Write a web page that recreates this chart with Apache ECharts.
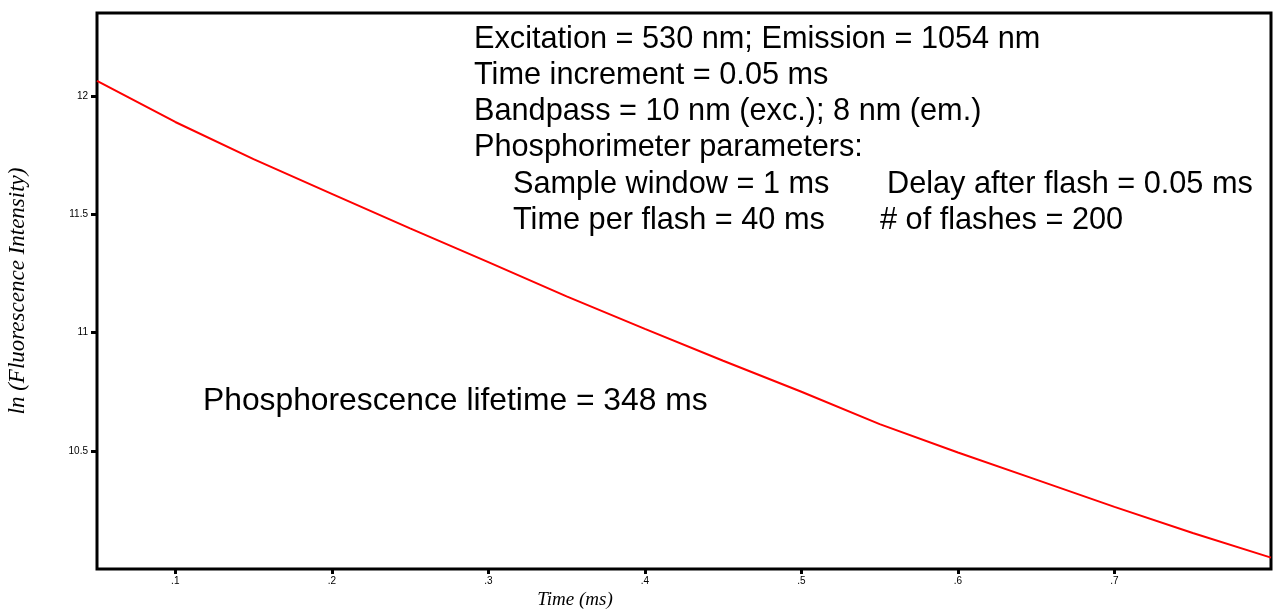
<!DOCTYPE html>
<html>
<head>
<meta charset="utf-8">
<script src="https://cdn.jsdelivr.net/npm/echarts@6/dist/echarts.min.js"></script>
<style>
html,body{margin:0;padding:0;background:#fff;}
#chart{width:1273px;height:614px;}
</style>
</head>
<body>
<div id="chart"></div>
<script>
// Data
const times = [0.05, 0.10, 0.15, 0.20, 0.25, 0.30, 0.35, 0.40, 0.45, 0.50, 0.55, 0.60, 0.65, 0.70, 0.75, 0.80];
const lnIntensity = [12.065, 11.891, 11.734, 11.587, 11.441, 11.298, 11.153, 11.016, 10.881, 10.750, 10.613, 10.493, 10.378, 10.263, 10.152, 10.048];
const xTickValues = [0.1, 0.2, 0.3, 0.4, 0.5, 0.6, 0.7];
const xTickLabels = ['.1', '.2', '.3', '.4', '.5', '.6', '.7'];
const yTickValues = [10.5, 11, 11.5, 12];
const yTickLabels = ['10.5', '11', '11.5', '12'];
const headerLines = [
  'Excitation = 530 nm; Emission = 1054 nm',
  'Time increment = 0.05 ms',
  'Bandpass = 10 nm (exc.); 8 nm (em.)',
  'Phosphorimeter parameters:'
];
const paramCol1 = ['Sample window = 1 ms', 'Time per flash = 40 ms'];
const paramCol2 = ['Delay after flash = 0.05 ms', '# of flashes = 200'];
const lifetimeText = 'Phosphorescence lifetime = 348 ms';

const chart = echarts.init(document.getElementById('chart'), null, {renderer: 'canvas'});
const sans = '"Liberation Sans", Arial, sans-serif';
const serif = '"Liberation Serif", "Times New Roman", serif';
const bigFont = '30.7px ' + sans;
const lifeFont = '31.8px ' + sans;

const headerY = [40, 76, 112, 148];
const paramY = [184.5, 220.5];

function txt(t, x, y, font) {
  return {type: 'text', x: x, y: y, silent: true,
    style: {text: t, font: font, fill: '#000', verticalAlign: 'middle', align: 'left'}};
}
const graphics = [];
headerLines.forEach((t, i) => graphics.push(txt(t, 474, headerY[i], bigFont)));
paramCol1.forEach((t, i) => graphics.push(txt(t, 513, paramY[i], bigFont)));
graphics.push(txt(paramCol2[0], 887, paramY[0], bigFont));
graphics.push(txt(paramCol2[1], 880, paramY[1], bigFont));
graphics.push(txt(lifetimeText, 203, 401, lifeFont));

chart.setOption({
  animation: false,
  backgroundColor: '#fff',
  grid: {left: 97, top: 13, right: 2, bottom: 45, containLabel: false, outerBoundsMode: 'none',
    show: true, borderColor: '#000', borderWidth: 3, backgroundColor: 'transparent'},
  xAxis: {
    type: 'value', min: 0.05, max: 0.8,
    name: 'Time (ms)', nameLocation: 'middle', nameGap: 17,
    nameTextStyle: {fontFamily: serif, fontStyle: 'italic', fontSize: 19, color: '#000', padding: [0, 218, 0, 0], verticalAlign: 'top'},
    axisLine: {show: false},
    splitLine: {show: false},
    axisTick: {show: true, inside: false, length: 5, customValues: xTickValues, lineStyle: {color: '#000', width: 3}},
    axisLabel: {show: true, customValues: xTickValues, margin: 7, fontFamily: sans, fontSize: 10, color: '#000',
      formatter: v => { const i = xTickValues.findIndex(t => Math.abs(t - v) < 1e-9); return i >= 0 ? xTickLabels[i] : ''; }}
  },
  yAxis: {
    type: 'value', min: 10, max: 12.352,
    name: 'ln (Fluorescence Intensity)', nameLocation: 'middle', nameGap: 68, nameRotate: 90,
    nameTextStyle: {fontFamily: serif, fontStyle: 'italic', fontSize: 23, color: '#000'},
    axisLine: {show: false},
    splitLine: {show: false},
    axisTick: {show: true, inside: false, length: 6, customValues: yTickValues, lineStyle: {color: '#000', width: 3}},
    axisLabel: {show: true, customValues: yTickValues, margin: 9, fontFamily: sans, fontSize: 10, color: '#000',
      formatter: v => { const i = yTickValues.findIndex(t => Math.abs(t - v) < 1e-9); return i >= 0 ? yTickLabels[i] : ''; }}
  },
  series: [{
    type: 'line',
    data: times.map((t, i) => [t, lnIntensity[i]]),
    showSymbol: false,
    symbol: 'none',
    lineStyle: {color: '#ff0000', width: 2},
    itemStyle: {color: '#ff0000'},
    clip: true,
    z: 1
  }],
  graphic: graphics
});
</script>
</body>
</html>
